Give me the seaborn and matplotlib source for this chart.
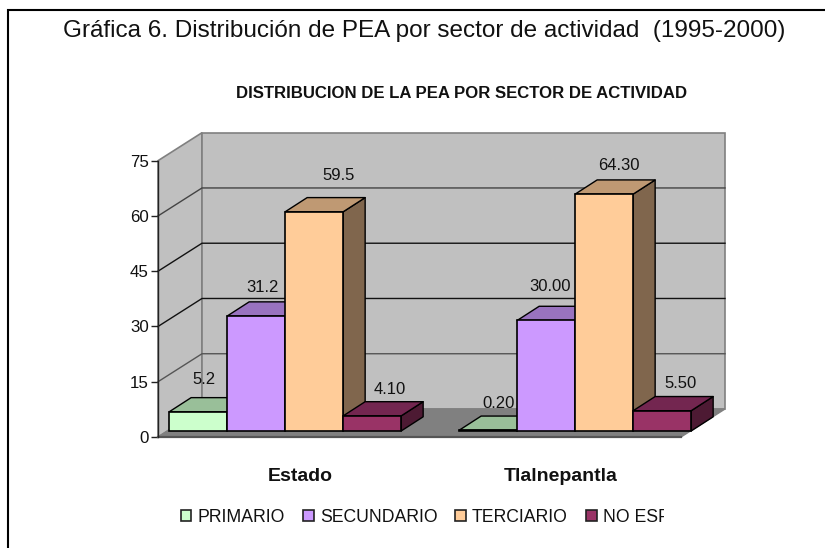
import matplotlib
matplotlib.use("Agg")
import matplotlib.pyplot as plt
import pandas as pd
import seaborn as sns
from matplotlib.patches import Polygon, Patch
from matplotlib.transforms import Bbox

# ---- data ----
zonas = ["Estado", "Tlalnepantla"]
sectores = ["PRIMARIO", "SECUNDARIO", "TERCIARIO", "NO ESP"]
estado = [5.2, 31.2, 59.5, 4.10]
tlalnepantla = [0.20, 30.00, 64.30, 5.50]
etiquetas_estado = ["5.2", "31.2", "59.5", "4.10"]
etiquetas_tlal = ["0.20", "30.00", "64.30", "5.50"]
ticks_y = [0, 15, 30, 45, 60, 75]
titulo = "Gráfica 6. Distribución de PEA por sector de actividad  (1995-2000)"
subtitulo = "DISTRIBUCION DE LA PEA POR SECTOR DE ACTIVIDAD"

# ---- styles ----
colores = ["#CCFFCC", "#CC99FF", "#FFCC99", "#993366"]
colores_top = ["#99BF99", "#9973BF", "#BF9973", "#732650"]
colores_lado = ["#668066", "#664D80", "#80664D", "#4D1A33"]
color_grid = ["#808080", "#555555", "#111111", "#111111", "#444444", "#808080"]
W, H = 825, 548
FONT = "Liberation Sans"
plt.rcParams["font.family"] = FONT

df = pd.DataFrame({
    "zona": [z for z in zonas for _ in sectores],
    "sector": sectores * 2,
    "valor": estado + tlalnepantla,
})

fig = plt.figure(figsize=(W / 100, H / 100), dpi=100, facecolor="white")

def rect(x0, ytop, x1, ybot):
    return [x0 / W, 1 - ybot / H, (x1 - x0) / W, (ybot - ytop) / H]

def fig_text(x, y, s, **kw):
    return fig.text(x / W, 1 - y / H, s, ha="center", va="center", color="#111111", **kw)

# frame: left and top rules only
fig.add_artist(plt.Line2D([7.5 / W, 7.5 / W, 1], [0, 1 - 10 / H, 1 - 10 / H], color="black", lw=1.5,
                          solid_joinstyle="miter"))

# ---- walls, floor and value axis (x in pixels of plot box, y in values) ----
ay = fig.add_axes(rect(158, 160.7, 725, 437), zorder=1)
ay.patch.set_visible(False)
ay.set_xlim(0, 567)
ay.set_ylim(0, 75)
DX, DY = 44, 7.6
pared = "#C0C0C0"
borde = "#808080"
ay.add_patch(Polygon([(0, 0), (DX, DY), (DX, 75 + DY), (0, 75)], fc=pared, ec=borde, lw=1.2, clip_on=False))
ay.add_patch(Polygon([(DX, DY), (567, DY), (567, 75 + DY), (DX, 75 + DY)], fc=pared, ec=borde, lw=1.2, clip_on=False))
ay.add_patch(Polygon([(0, 0), (523, 0), (567, DY), (DX, DY)], fc="#808080", ec="#808080", lw=1.0, clip_on=False))
ay.plot([0, 523], [0, 0], color="#555555", lw=1.6, clip_on=False)
for v, c in zip(ticks_y[1:-1], color_grid[1:-1]):
    ay.plot([0, DX, 567], [v, v + DY, v + DY], color=c, lw=1.0, clip_on=False)
for s in ["top", "right", "bottom"]:
    ay.spines[s].set_visible(False)
ay.spines["left"].set_color("#222222")
ay.spines["left"].set_linewidth(1.0)
ay.set_yticks(ticks_y)
ay.tick_params(axis="y", length=5, width=1, color="#222222", pad=1.5, labelsize=12.2, labelcolor="#111111")
ay.set_xticks([])

# ---- bars ----
ax = fig.add_axes(rect(158, 133, 725, 437), zorder=2)
ax.patch.set_visible(False)
sns.barplot(data=df, x="zona", y="valor", hue="sector", order=zonas, hue_order=sectores,
            palette=colores, saturation=1, width=0.8, gap=0, dodge=True, edgecolor="black", linewidth=1.2,
            legend=False, err_kws={"linewidth": 0}, ax=ax)
PX_X, PX_Y = 290.0, 3.684
ax.set_xlim((158 - 285.15) / PX_X, (725 - 285.15) / PX_X)
ax.set_ylim((431 - 437) / PX_Y, (431 - 133) / PX_Y)
for s in ax.spines.values():
    s.set_visible(False)
ax.set_xlabel("")
ax.set_ylabel("")
ax.set_yticks([])
ax.set_xticks([(300 - 285.15) / PX_X, (561 - 285.15) / PX_X], zonas)
ax.tick_params(axis="x", length=0, pad=22)
for lab in ax.get_xticklabels():
    lab.set_fontweight("bold")
    lab.set_fontsize(14)
    lab.set_color("#111111")

bars = sorted([p for p in ax.patches if p.get_width() > 0], key=lambda p: p.get_x())
bx, by = 22 / PX_X, 14.2 / PX_Y
zorden = 3
for i, p in enumerate(bars):
    k = i % 4
    x0, w, h = p.get_x(), p.get_width(), p.get_height()
    x1 = x0 + w
    ax.add_patch(Polygon([(x1, 0), (x1 + bx, by), (x1 + bx, h + by), (x1, h)], fc=colores_lado[k],
                         ec="black", lw=1.0, zorder=zorden, joinstyle="round"))
    ax.add_patch(Polygon([(x0, h), (x0 + bx, h + by), (x1 + bx, h + by), (x1, h)], fc=colores_top[k],
                         ec="black", lw=1.0, zorder=zorden, joinstyle="round"))
    p.set_zorder(zorden + 0.5)
    zorden += 1

# ---- value labels (offset from each bar's top, in pixels) ----
offsets = [(6, 32), (6, 29), (24, 36), (18, 26), (10, 27), (4, 34), (15, 29), (18, 27)]
etiquetas = etiquetas_estado + etiquetas_tlal
for p, txt, off in zip(bars, etiquetas, offsets):
    ax.annotate(txt, (p.get_x() + p.get_width() / 2, p.get_height()), xytext=(off[0] * 0.72, off[1] * 0.72),
                textcoords="offset points", ha="center", va="center", fontsize=12, color="#111111",
                zorder=50, annotation_clip=False)

# ---- titles ----
fig_text(424, 31, titulo, fontsize=17.45)
fig_text(461.5, 93, subtitulo, fontsize=12.05, fontweight="bold")

# ---- legend ----
handles = [Patch(facecolor=c, edgecolor="#222222", linewidth=1.2) for c in colores]
leg = fig.legend(handles, sectores, ncols=4, frameon=False, loc="center left",
                 bbox_to_anchor=(180.5 / W, 1 - 517 / H), fontsize=12.7, handlelength=0.62, handleheight=0.62,
                 handletextpad=0.35, columnspacing=1.0, borderpad=0, borderaxespad=0, labelcolor="#111111")
clip = Bbox.from_extents(0, 0, 664, H)
leg.get_texts()[-1].set_clip_box(clip)
leg.get_texts()[-1].set_clip_on(True)

fig.savefig("out.png", dpi=100, facecolor="white")
